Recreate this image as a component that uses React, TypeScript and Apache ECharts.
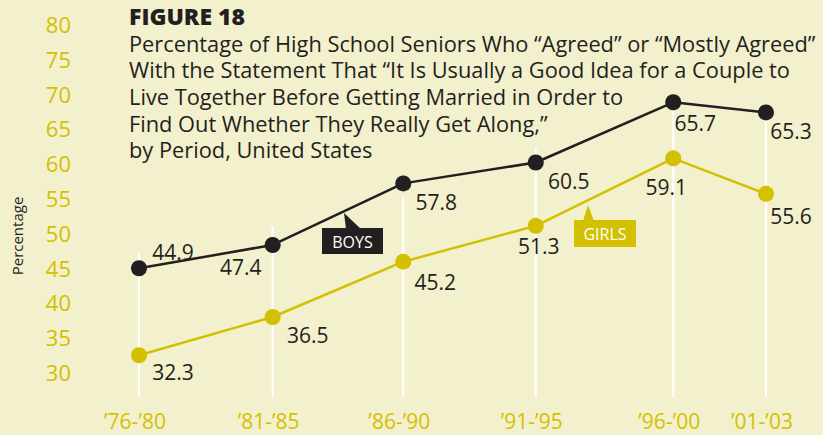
import React, { useEffect, useRef } from "react";
import * as echarts from "echarts";

const periods = ["’76-’80", "’81-’85", "’86-’90", "’91-’95", "’96-’00", "’01-’03"];
// horizontal placement of each period (periods are not evenly spaced in the original)
const periodPositions = [0, 1.005, 1.987, 2.983, 4.017, 4.714];
// where the markers sit in the picture
const boysPlotted = [44.9, 48.25, 57.1, 60.1, 68.75, 67.3];
const girlsPlotted = [32.4, 37.9, 45.85, 51.0, 60.7, 55.6];
// printed value labels
const boysPrinted = ["44.9", "47.4", "57.8", "60.5", "65.7", "65.3"];
const girlsPrinted = ["32.3", "36.5", "45.2", "51.3", "59.1", "55.6"];
// top of the white guide line at each period
const guideTops = [47.2, 51.0, 55.1, 62.2, 67.5, 66.2];
const guideBottom = 26.4;
const yTicks = [30, 35, 40, 45, 50, 55, 60, 65, 70, 75, 80];

const titleText = "FIGURE 18";
const subtitleLines = [
  "Percentage of High School Seniors Who “Agreed” or “Mostly Agreed”",
  "With the Statement That “It Is Usually a Good Idea for a Couple to",
  "Live Together Before Getting Married in Order to",
  "Find Out Whether They Really Get Along,”",
  "by Period, United States",
];

const boysLabelOffsets = [[34, -16], [-32, 22], [33, 19], [33, 18], [22, 21], [25, 19]];
const girlsLabelOffsets = [[34, 17], [35, 18], [32, 20], [3, 20], [-7, 29], [25, 22]];

const BG = "#f3f0cd";
const YELLOW = "#d3c000";
const DARK = "#231f20";
const FONT = "'Open Sans', sans-serif";

export default function App() {
  const ref = useRef<HTMLDivElement>(null);
  useEffect(() => {
    if (!ref.current) return;
    const chart = echarts.init(ref.current, null, { renderer: "svg" });
    const mk = (vals: number[], printed: string[], offs: number[][]) =>
      vals.map((v, i) => ({
        value: [periodPositions[i], v],
        label: { offset: offs[i], formatter: printed[i] },
      }));
    const option: any = {
      animation: false,
      backgroundColor: BG,
      title: {
        text: titleText,
        subtext: subtitleLines.join("\n"),
        left: 129,
        top: 5,
        padding: 0,
        itemGap: 2,
        textStyle: { fontFamily: FONT, fontSize: 23, fontWeight: 800, color: DARK, lineHeight: 22 },
        subtextStyle: { fontFamily: FONT, fontSize: 21.8, color: DARK, lineHeight: 26.6 },
      },
      grid: { left: 139, right: 19, top: 24, bottom: 28.2, containLabel: false },
      xAxis: {
        type: "value",
        min: 0,
        max: 5,
        axisLine: { show: false },
        axisTick: { show: false },
        splitLine: { show: false },
        axisLabel: {
          customValues: periodPositions,
          formatter: (v: number) => {
            let best = 0;
            periodPositions.forEach((p, i) => {
              if (Math.abs(p - v) < Math.abs(periodPositions[best] - v)) best = i;
            });
            return periods[best];
          },
          color: YELLOW,
          fontFamily: FONT,
          fontSize: 21,
          margin: 4,
          padding: [0, 8, 0, 0],
        },
      },
      yAxis: {
        type: "value",
        min: 25,
        max: 80,
        interval: 5,
        axisLine: { show: false },
        axisTick: { show: false },
        splitLine: { show: false },
        axisLabel: {
          customValues: yTicks,
          color: YELLOW,
          fontFamily: FONT,
          fontSize: 22,
          margin: 68,
        },
      },
      graphic: [
        {
          type: "text",
          x: 17,
          y: 236,
          rotation: Math.PI / 2,
          style: {
            text: "Percentage",
            fill: DARK,
            font: `15px ${FONT}`,
            align: "center",
            verticalAlign: "middle",
          },
        },
        { type: "polygon", shape: { points: [[344, 213], [346, 229], [361, 229]] }, style: { fill: DARK } },
        { type: "rect", shape: { x: 322, y: 228, width: 61, height: 26 }, style: { fill: DARK } },
        {
          type: "text",
          x: 352.5,
          y: 241.5,
          style: { text: "BOYS", fill: "#ffffff", font: `16px ${FONT}`, align: "center", verticalAlign: "middle" },
        },
        { type: "polygon", shape: { points: [[588, 205], [583, 221], [594, 221]] }, style: { fill: YELLOW } },
        { type: "rect", shape: { x: 574, y: 220, width: 62, height: 27 }, style: { fill: YELLOW } },
        {
          type: "text",
          x: 605,
          y: 234,
          style: { text: "GIRLS", fill: "#ffffff", font: `16px ${FONT}`, align: "center", verticalAlign: "middle" },
        },
      ],
      series: [
        {
          type: "custom",
          z: 1,
          silent: true,
          data: periodPositions.map((p, i) => [p, guideTops[i]]),
          renderItem: (params: any, api: any) => {
            const x = api.value(0);
            const top = api.coord([x, api.value(1)]);
            const bot = api.coord([x, guideBottom]);
            return {
              type: "line",
              shape: { x1: top[0], y1: top[1], x2: bot[0], y2: bot[1] },
              style: { stroke: "#ffffff", lineWidth: 2 },
            };
          },
        },
        {
          name: "GIRLS",
          type: "line",
          z: 3,
          data: mk(girlsPlotted, girlsPrinted, girlsLabelOffsets),
          symbol: "circle",
          symbolSize: 16,
          lineStyle: { color: YELLOW, width: 2.5 },
          itemStyle: { color: YELLOW },
          label: {
            show: true,
            position: "inside",
            align: "center",
            verticalAlign: "middle",
            color: DARK,
            fontFamily: FONT,
            fontSize: 21,
          },
        },
        {
          name: "BOYS",
          type: "line",
          z: 4,
          data: mk(boysPlotted, boysPrinted, boysLabelOffsets),
          symbol: "circle",
          symbolSize: 16,
          lineStyle: { color: DARK, width: 2.5 },
          itemStyle: { color: DARK },
          label: {
            show: true,
            position: "inside",
            align: "center",
            verticalAlign: "middle",
            color: DARK,
            fontFamily: FONT,
            fontSize: 21,
          },
        },
      ],
    };
    chart.setOption(option);
    return () => chart.dispose();
  }, []);
  return (
    <div
      ref={ref}
      style={{ position: "fixed", left: 0, top: 0, width: 823, height: 435 }}
    />
  );
}
